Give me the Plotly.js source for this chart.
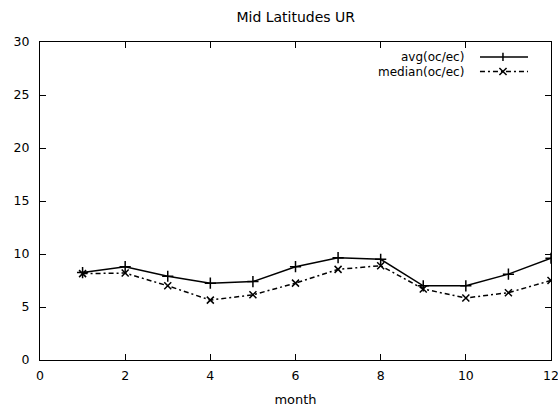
<!DOCTYPE html>
<html><head><meta charset="utf-8">
<script src="https://cdn.plot.ly/plotly-3.0.1.min.js"></script>
<style>html,body{margin:0;padding:0;background:#fff}#c{width:558px;height:412px}</style>
</head><body><div id="c"></div>
<script>
const months = [1,2,3,4,5,6,7,8,9,10,11,12];
const avgValues = [8.25, 8.8, 7.9, 7.25, 7.4, 8.8, 9.65, 9.5, 7.0, 7.0, 8.1, 9.6];
const medianValues = [8.15, 8.2, 7.0, 5.65, 6.15, 7.25, 8.55, 8.9, 6.7, 5.85, 6.35, 7.5];
const seriesNames = ['avg(oc/ec)', 'median(oc/ec)'];
const xTicks = [0,2,4,6,8,10,12];
const yTicks = [0,5,10,15,20,25,30];

const font = {family: 'DejaVu Sans, sans-serif', size: 12.5, color: '#000'};
const legendFont = {family: 'DejaVu Sans, sans-serif', size: 12, color: '#000'};
const titleFont = {family: 'DejaVu Sans, sans-serif', size: 14, color: '#000'};
const dashPat = '5px,3px,2px,3px';
const traces = [
  {x: months, y: avgValues, mode: 'lines+markers', name: seriesNames[0],
   line: {color: '#000', width: 1.5},
   marker: {symbol: 'cross-thin', size: 8, color: '#000', line: {color: '#000', width: 1.5}}},
  {x: months, y: medianValues, mode: 'lines+markers', name: seriesNames[1],
   line: {color: '#000', width: 1.5, dash: dashPat},
   marker: {symbol: 'x-thin', size: 7, color: '#000', line: {color: '#000', width: 1.5}}}
];
// legend drawn gnuplot-style: text on the left, sample on the right
const legendRows = [0.953, 0.907];
const annotations = seriesNames.map((n, i) => ({
  xref: 'paper', yref: 'paper', x: 0.833, y: legendRows[i], xanchor: 'right', yanchor: 'middle',
  text: n, showarrow: false, font: legendFont
}));
const shapes = [];
legendRows.forEach((ry, i) => {
  shapes.push({type: 'line', xref: 'paper', yref: 'paper', x0: 0.861, x1: 0.955, y0: ry, y1: ry,
    line: {color: '#000', width: 1.5, dash: i ? dashPat : 'solid'}});
});
// legend markers
const mx = 0.906;
shapes.push({type: 'line', xref: 'paper', yref: 'paper', x0: mx, x1: mx, y0: legendRows[0]-0.013, y1: legendRows[0]+0.013, line: {color: '#000', width: 1.5}});
shapes.push({type: 'line', xref: 'paper', yref: 'paper', x0: mx-0.007, x1: mx+0.007, y0: legendRows[1]-0.011, y1: legendRows[1]+0.011, line: {color: '#000', width: 1.5}});
shapes.push({type: 'line', xref: 'paper', yref: 'paper', x0: mx-0.007, x1: mx+0.007, y0: legendRows[1]+0.011, y1: legendRows[1]-0.011, line: {color: '#000', width: 1.5}});

const axisCommon = {
  showgrid: false, zeroline: false, showline: true, linecolor: '#000', linewidth: 1,
  mirror: 'ticks', ticks: 'inside', ticklen: 6, tickcolor: '#000', tickwidth: 1, tickfont: font,
  ticklabeloverflow: 'allow'
};
const layout = {
  width: 558, height: 412,
  margin: {l: 40, r: 7, t: 42, b: 52},
  paper_bgcolor: '#fff', plot_bgcolor: '#fff',
  showlegend: false,
  title: {text: 'Mid Latitudes UR', font: titleFont, x: 0.53, xanchor: 'center', y: 0.959, yanchor: 'middle'},
  xaxis: Object.assign({}, axisCommon, {range: [0, 12], tickvals: xTicks, ticktext: xTicks.map(String),
    ticklabelstandoff: 4, title: {text: 'month', font: {family: 'DejaVu Sans, sans-serif', size: 13, color: '#000'}, standoff: 12}}),
  yaxis: Object.assign({}, axisCommon, {range: [0, 30], tickvals: yTicks, ticktext: yTicks.map(String),
    ticklabelstandoff: 7}),
  annotations: annotations, shapes: shapes
};
Plotly.newPlot('c', traces, layout, {displayModeBar: false, staticPlot: true});
</script></body></html>
